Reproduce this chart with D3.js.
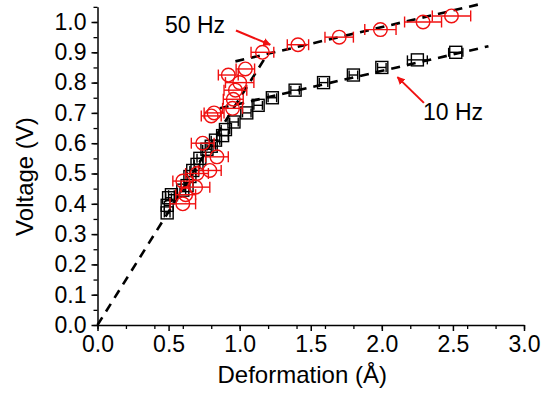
<!DOCTYPE html>
<html>
  <head>
    <style>
      body { margin: 0; background: #fff; }
      text { font-family: "Liberation Sans", Arial, sans-serif; }
    </style>
  </head>
  <body>
    <div id="my_dataviz"></div>
  </body>
</html>

<script src="https://d3js.org/d3.v7.min.js"></script>

<script>

    // 10 Hz points: deformation (A), voltage (V), x error
    var hz10_x   = [0.49, 0.49, 0.50, 0.52, 0.60, 0.63, 0.65, 0.67, 0.70, 0.72, 0.77, 0.80, 0.83, 0.88, 0.90, 0.96, 1.05, 1.13, 1.23, 1.39, 1.59, 1.80, 2.00, 2.25, 2.52];
    var hz10_y   = [0.37, 0.395, 0.42, 0.43, 0.445, 0.46, 0.49, 0.51, 0.53, 0.55, 0.58, 0.59, 0.61, 0.625, 0.645, 0.67, 0.70, 0.725, 0.75, 0.775, 0.80, 0.825, 0.85, 0.875, 0.90];
    var hz10_err = [0.02, 0.02, 0.02, 0.02, 0.02, 0.02, 0.02, 0.02, 0.02, 0.02, 0.03, 0.03, 0.03, 0.04, 0.03, 0.03, 0.03, 0.03, 0.03, 0.03, 0.03, 0.03, 0.03, 0.07, 0.05];

    // 50 Hz points
    var hz50_x   = [0.60, 0.62, 0.60, 0.69, 0.70, 0.79, 0.84, 0.74, 0.80, 0.82, 0.95, 0.955, 0.97, 1.00, 0.92, 1.04, 1.16, 1.41, 1.70, 1.99, 2.29, 2.49];
    var hz50_y   = [0.40, 0.43, 0.475, 0.455, 0.50, 0.51, 0.555, 0.60, 0.69, 0.70, 0.715, 0.745, 0.775, 0.80, 0.825, 0.845, 0.90, 0.925, 0.95, 0.975, 1.00, 1.02];
    var hz50_err = [0.09, 0.07, 0.07, 0.10, 0.08, 0.08, 0.08, 0.08, 0.07, 0.07, 0.07, 0.07, 0.08, 0.10, 0.07, 0.065, 0.08, 0.075, 0.10, 0.11, 0.13, 0.135];

    // dashed fit lines (end points)
    var fitOrigin = [[0, 0], [1.17, 0.875]];
    var fit50 = [[0.97, 0.87], [2.70, 1.06]];
    var fit10 = [[0.86, 0.715], [2.75, 0.92]];

    var xTicks = [0, 0.5, 1.0, 1.5, 2.0, 2.5, 3.0];
    var yTicks = [0, 0.1, 0.2, 0.3, 0.4, 0.5, 0.6, 0.7, 0.8, 0.9, 1.0];

    var margin = {top: 6.85, right: 17, bottom: 74, left: 97.5},
        width = 541 - margin.left - margin.right,
        height = 399 - margin.top - margin.bottom;

    var svg = d3.select("#my_dataviz")
      .append("svg")
        .attr("width", 541)
        .attr("height", 399)
      .append("g")
        .attr("transform", "translate(" + margin.left + "," + margin.top + ")");

    var x = d3.scaleLinear().domain([0, 3.0]).range([0, width]);
    var y = d3.scaleLinear().domain([0, 1.05]).range([height, 0]);

    // minor ticks
    svg.append("g")
      .attr("transform", "translate(0," + height + ")")
      .call(d3.axisBottom(x).ticks(12).tickSize(4).tickFormat(""))
      .call(function(g) { g.select(".domain").remove(); })
      .selectAll("line").attr("stroke-width", 1.3);
    svg.append("g")
      .call(d3.axisLeft(y).tickValues(d3.range(0, 1.051, 0.05)).tickSize(4).tickFormat(""))
      .call(function(g) { g.select(".domain").remove(); })
      .selectAll("line").attr("stroke-width", 1.3);

    // X axis
    var gx = svg.append("g")
      .attr("transform", "translate(0," + height + ")")
      .call(d3.axisBottom(x).tickValues(xTicks).tickSize(6).tickSizeOuter(0).tickPadding(5).tickFormat(d3.format(".1f")));
    gx.select(".domain").attr("stroke-width", 1.5);
    gx.selectAll("line").attr("stroke-width", 1.5);
    gx.selectAll("text").attr("font-size", 23).attr("font-family", "Liberation Sans, Arial, sans-serif");

    // Y axis
    var gy = svg.append("g")
      .call(d3.axisLeft(y).tickValues(yTicks).tickSize(6).tickSizeOuter(0).tickPadding(5).tickFormat(d3.format(".1f")));
    gy.select(".domain").attr("stroke-width", 1.5);
    gy.selectAll("line").attr("stroke-width", 1.5);
    gy.selectAll("text").attr("font-size", 23).attr("font-family", "Liberation Sans, Arial, sans-serif");

    // axis titles
    svg.append("text")
      .attr("x", x(1.44))
      .attr("y", height + 58)
      .attr("text-anchor", "middle")
      .attr("font-size", 24)
      .text("Deformation (Å)");
    svg.append("text")
      .attr("transform", "translate(" + (-65) + "," + y(0.49) + ")rotate(-90)")
      .attr("text-anchor", "middle")
      .attr("font-size", 24)
      .text("Voltage (V)");

    // fit lines
    var line = d3.line().x(function(d) { return x(d[0]); }).y(function(d) { return y(d[1]); });
    [fitOrigin, fit50, fit10].forEach(function(f) {
      svg.append("path")
        .attr("d", line(f))
        .attr("fill", "none")
        .attr("stroke", "#000")
        .attr("stroke-width", 2.6)
        .attr("stroke-dasharray", "9,7");
    });

    function errBars(xs, ys, es, color, cap) {
      var data = xs.map(function(d, i) { return {x: d, y: ys[i], e: es[i]}; });
      var g = svg.append("g").attr("stroke", color).attr("stroke-width", 1.4).attr("fill", "none");
      g.selectAll("line.bar").data(data).enter().append("line")
        .attr("x1", function(d) { return x(d.x - d.e); })
        .attr("x2", function(d) { return x(d.x + d.e); })
        .attr("y1", function(d) { return y(d.y); })
        .attr("y2", function(d) { return y(d.y); });
      g.selectAll("line.l").data(data).enter().append("line")
        .attr("x1", function(d) { return x(d.x - d.e); })
        .attr("x2", function(d) { return x(d.x - d.e); })
        .attr("y1", function(d) { return y(d.y) - cap; })
        .attr("y2", function(d) { return y(d.y) + cap; });
      g.selectAll("line.r").data(data).enter().append("line")
        .attr("x1", function(d) { return x(d.x + d.e); })
        .attr("x2", function(d) { return x(d.x + d.e); })
        .attr("y1", function(d) { return y(d.y) - cap; })
        .attr("y2", function(d) { return y(d.y) + cap; });
      return data;
    }

    // 10 Hz squares
    var d10 = errBars(hz10_x, hz10_y, hz10_err, "#000", 4.5);
    svg.selectAll("rect.sq").data(d10).enter().append("rect")
      .attr("x", function(d) { return x(d.x) - 6; })
      .attr("y", function(d) { return y(d.y) - 6; })
      .attr("width", 12)
      .attr("height", 12)
      .attr("fill", "none")
      .attr("stroke", "#000")
      .attr("stroke-width", 1.4);

    // 50 Hz circles
    var d50 = errBars(hz50_x, hz50_y, hz50_err, "#f01010", 5.5);
    svg.selectAll("circle.c").data(d50).enter().append("circle")
      .attr("cx", function(d) { return x(d.x); })
      .attr("cy", function(d) { return y(d.y); })
      .attr("r", 6.8)
      .attr("fill", "none")
      .attr("stroke", "#f01010")
      .attr("stroke-width", 1.4);

    // annotations
    svg.append("defs").append("marker")
      .attr("id", "head")
      .attr("viewBox", "0 0 10 10")
      .attr("refX", 9).attr("refY", 5)
      .attr("markerWidth", 4).attr("markerHeight", 4)
      .attr("orient", "auto")
      .append("path").attr("d", "M0,0L10,5L0,10z").attr("fill", "#f01010");

    var notes = [
      {label: "50 Hz", tx: 0.475, ty: 0.964, from: [0.974, 0.972], to: [1.215, 0.925]},
      {label: "10 Hz", tx: 2.289, ty: 0.677, from: [2.296, 0.733], to: [2.11, 0.818]}
    ];
    notes.forEach(function(n) {
      svg.append("text")
        .attr("x", x(n.tx)).attr("y", y(n.ty))
        .attr("font-size", 23)
        .text(n.label);
      svg.append("line")
        .attr("x1", x(n.from[0])).attr("y1", y(n.from[1]))
        .attr("x2", x(n.to[0])).attr("y2", y(n.to[1]))
        .attr("stroke", "#f01010")
        .attr("stroke-width", 2)
        .attr("marker-end", "url(#head)");
    });

</script>
